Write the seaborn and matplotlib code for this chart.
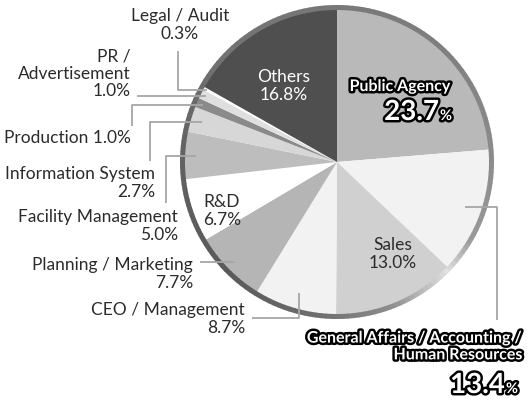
import numpy as np
import matplotlib
matplotlib.use("Agg")
import matplotlib.pyplot as plt
import matplotlib.patheffects as pe
from matplotlib.patches import Wedge
import seaborn as sns

# data
departments = ["Public Agency", "General Affairs / Accounting /\nHuman Resources", "Sales",
               "CEO / Management", "Planning / Marketing", "R&D", "Facility Management",
               "Information System", "Production", "PR /\nAdvertisement", "Legal / Audit", "Others"]
shares = [23.7, 13.4, 13.0, 8.7, 7.7, 6.7, 5.0, 2.7, 1.0, 1.0, 0.3, 16.8]
slice_colors = ["#b9b9b9", "#f2f2f2", "#d0d0d0", "#f2f2f2", "#b5b5b5", "#ffffff",
                "#bdbdbd", "#d7d7d7", "#8a8a8a", "#dfdfdf", "#ffffff", "#4f4f4f"]

sns.set_style("white")
plt.rcParams["font.family"] = ["Lato", "DejaVu Sans"]

W, H = 528, 405
fig = plt.figure(figsize=(W / 100, H / 100), dpi=100)
ax = fig.add_axes([0, 0, 1, 1])

cx, cy, R = 337, H - 162, 153
wedges, _ = ax.pie(shares, colors=slice_colors, startangle=90, counterclock=False,
                   center=(cx, cy), radius=R, frame=True,
                   wedgeprops=dict(linewidth=0))
ax.set_xlim(0, W)
ax.set_ylim(0, H)
ax.set_aspect("equal")
ax.axis("off")

# metallic rim
rim_ang = [-180, -135, -100, -70, -45, -30, 0, 45, 90, 135, 180]
rim_gray = [0.38, 0.35, 0.42, 0.55, 0.88, 0.6, 0.55, 0.5, 0.47, 0.45, 0.38]
for a in np.arange(-180, 180, 2):
    g = np.interp(a + 1, rim_ang, rim_gray)
    ax.add_patch(Wedge((cx, cy), R + 4, a, a + 2.3, width=5, color=str(g), lw=0))

def mid_point(i, r):
    w = wedges[i]
    a = np.deg2rad((w.theta1 + w.theta2) / 2)
    return cx + r * R * np.cos(a), cy + r * R * np.sin(a)

txt = "#2b2b2b"
fs = 12.5
ls = 1.1
lc = "#a6a6a6"

# inside labels
ax.text(284, H - 86, "Others\n16.8%", color="white", fontsize=fs, ha="center", va="center", linespacing=ls)
ax.text(393, H - 254, "Sales\n13.0%", color=txt, fontsize=fs, ha="center", va="center", linespacing=ls)
ax.text(222, H - 211, "R&D\n6.7%", color=txt, fontsize=fs, ha="center", va="center", linespacing=ls)

stroke = [pe.withStroke(linewidth=3.5, foreground="black")]
ax.text(400, H - 87, departments[0], color="white", fontsize=11.5, ha="center", va="center",
        fontweight="bold", path_effects=stroke)
ax.text(439, H - 112, "%.1f" % shares[0], color="white", fontsize=20, ha="right", va="center",
        fontweight="bold", path_effects=stroke)
ax.text(440, H - 116, "%", color="white", fontsize=10.5, ha="left", va="center",
        fontweight="bold", path_effects=stroke)

# outside labels with elbow leader lines
def leader(i, r, pts):
    ax_, ay_ = mid_point(i, r)
    xs = [p[0] for p in pts] + [ax_]
    ys = [H - p[1] for p in pts] + [ay_]
    ax.plot(xs, ys, color=lc, lw=1.3, solid_capstyle="butt")

def label(x, y, s, ha):
    ax.text(x, H - y, s, color=txt, fontsize=fs, ha=ha, va="center",
            linespacing=ls, multialignment=ha if ha != "center" else "center")

# Legal / Audit
label(180, 25, "%s\n%.1f%%" % (departments[10], shares[10]), "center")
a = mid_point(10, 0.97)
leader(10, 0.97, [(178, 51), (178, H - a[1])])

# PR / Advertisement
a = mid_point(9, 0.96)
label(131, 74, "%s\n%.1f%%" % (departments[9], shares[9]), "right")
leader(9, 0.96, [(137, H - a[1])])

# Production
a = mid_point(8, 0.95)
label(4, 138, "%s %.1f%%" % (departments[8], shares[8]), "left")
leader(8, 0.95, [(132, 126), (132, H - a[1])])

# Information System
a = mid_point(7, 0.92)
label(155, 183, "%s\n%.1f%%" % (departments[7], shares[7]), "right")
leader(7, 0.92, [(150, 161), (150, H - a[1])])

# Facility Management
a = mid_point(6, 0.92)
label(178, 226, "%s\n%.1f%%" % (departments[6], shares[6]), "right")
leader(6, 0.92, [(166, 203), (166, H - a[1])])

# Planning / Marketing
a = mid_point(4, 0.93)
label(193, 274, "%s\n%.1f%%" % (departments[4], shares[4]), "right")
leader(4, 0.93, [(200, H - a[1])])

# CEO / Management
a = mid_point(3, 0.89)
label(245, 319, "%s\n%.1f%%" % (departments[3], shares[3]), "right")
leader(3, 0.89, [(252, 318), (a[0], 318)])

# General Affairs
a = mid_point(1, 0.89)
leader(1, 0.89, [(497, 320), (497, H - a[1])])
ax.text(522, H - 347, departments[1], color="white", fontsize=11.5, ha="right", va="center",
        fontweight="bold", linespacing=1.25, multialignment="right", path_effects=stroke)
ax.text(505, H - 385, "%.1f" % shares[1], color="white", fontsize=20, ha="right", va="center",
        fontweight="bold", path_effects=stroke)
ax.text(506, H - 389, "%", color="white", fontsize=10.5, ha="left", va="center",
        fontweight="bold", path_effects=stroke)

fig.savefig("out.png", dpi=100)
